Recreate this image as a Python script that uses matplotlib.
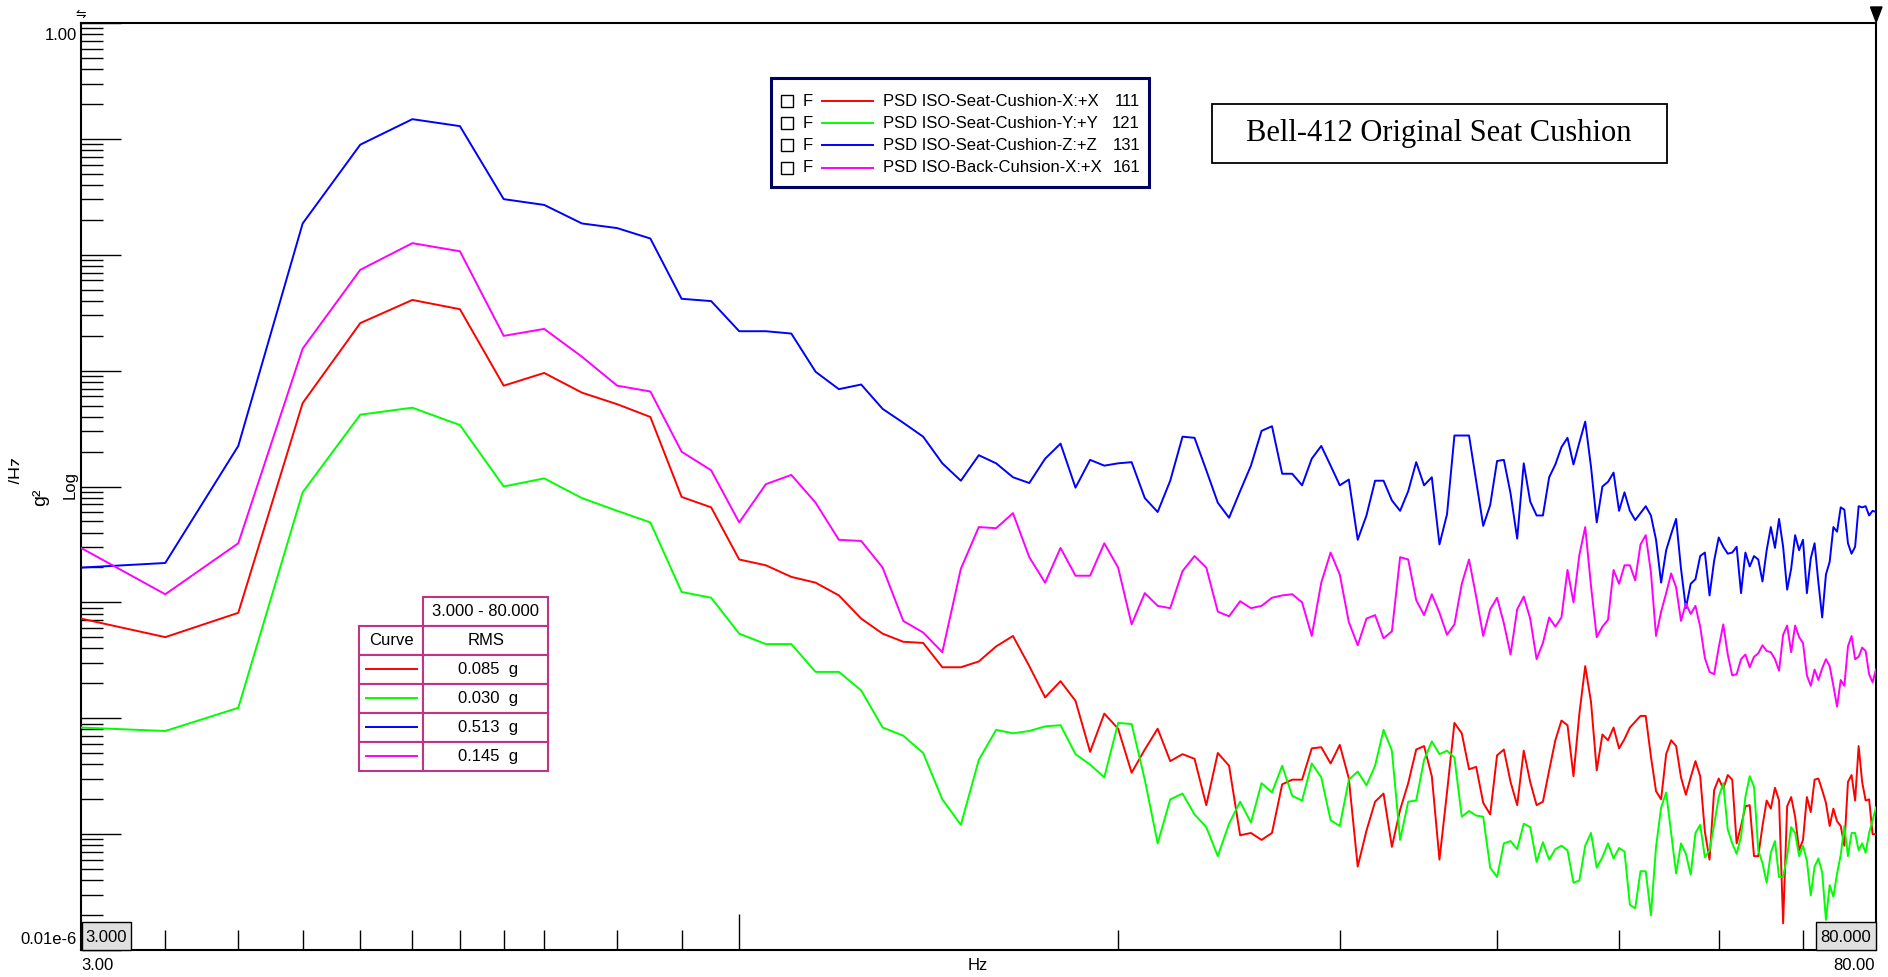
import numpy as np
import matplotlib
matplotlib.use('Agg')
import matplotlib.pyplot as plt
from matplotlib.patches import Rectangle, Polygon
from matplotlib.ticker import FixedLocator, LogLocator, NullFormatter

plt.rcParams['font.family'] = ['Liberation Sans', 'DejaVu Sans']

# 0.5 Hz spectral lines, 3 .. 80 Hz
freq = np.arange(3.0, 80.01, 0.5)

# log10 of PSD in g^2/Hz, one value per spectral line
psd_x_111 = [
    -5.14, -5.30, -5.09, -3.28, -2.59, -2.39, -2.47, -3.13, -3.02, -3.19, -3.29, -3.40,
    -4.09, -4.18, -4.63, -4.68, -4.78, -4.83, -4.94, -5.14, -5.27, -5.34, -5.35, -5.56,
    -5.56, -5.51, -5.38, -5.29, -5.55, -5.82, -5.68, -5.85, -6.29,
    -5.96, -6.09, -6.47, -6.27, -6.09, -6.37, -6.31, -6.35, -6.75, -6.30, -6.41, -7.01,
    -6.99, -7.05, -6.99, -6.57, -6.53, -6.53, -6.26, -6.25, -6.39, -6.23, -6.52, -7.28,
    -6.97, -6.72, -6.65, -7.11, -6.79, -6.56, -6.27, -6.24, -6.50, -7.22, -6.64, -6.04,
    -6.13, -6.44, -6.42,
    -6.73, -6.83, -6.32, -6.27, -6.55, -6.75, -6.28, -6.55, -6.75, -6.72, -6.45, -6.19,
    -6.02, -6.06, -6.50, -5.96, -5.55, -5.86, -6.45, -6.14, -6.19, -6.08, -6.26, -6.18,
    -6.08, -6.03, -5.98, -5.98, -6.33, -6.63, -6.70, -6.31, -6.19, -6.24, -6.51, -6.66,
    -6.51, -6.37, -6.50, -6.98, -7.22, -6.62, -6.52, -6.61, -6.49, -6.53, -7.08, -6.93,
    -6.76, -6.75, -7.19, -7.19, -6.93, -6.71, -6.78, -6.60, -6.71, -7.77, -6.76, -6.68,
    -6.85, -7.14, -7.05, -6.68, -6.81, -6.53, -6.52, -6.62, -6.73, -6.93, -6.78, -6.89,
    -6.93, -7.10, -6.55, -6.49, -6.71, -6.24, -6.55, -6.71, -6.70, -7.00, -7.00,
]
psd_y_121 = [
    -6.08, -6.11, -5.91, -4.05, -3.38, -3.32, -3.47, -4.00, -3.93, -4.10, -4.21, -4.31,
    -4.91, -4.96, -5.27, -5.36, -5.36, -5.60, -5.60, -5.76, -6.08, -6.15, -6.30, -6.70,
    -6.92, -6.36, -6.10, -6.13, -6.11, -6.07, -6.06, -6.31, -6.40,
    -6.51, -6.04, -6.05, -6.53, -7.08, -6.70, -6.65, -6.83, -6.94, -7.19, -6.91, -6.72,
    -6.90, -6.56, -6.64, -6.41, -6.67, -6.71, -6.39, -6.51, -6.88, -6.93, -6.53, -6.46,
    -6.58, -6.41, -6.10, -6.28, -7.05, -6.72, -6.71, -6.36, -6.20, -6.31, -6.28, -6.34,
    -6.85, -6.80, -6.84,
    -6.85, -7.29, -7.37, -7.08, -7.06, -7.13, -6.91, -6.94, -7.24, -7.07, -7.22, -7.13,
    -7.10, -7.14, -7.42, -7.40, -7.10, -6.99, -7.29, -7.20, -7.08, -7.21, -7.12, -7.15,
    -7.61, -7.64, -7.32, -7.32, -7.70, -7.11, -6.77, -6.64, -6.99, -7.34, -7.08, -7.17,
    -7.35, -6.99, -6.92, -7.20, -7.14, -6.92, -6.68, -6.56, -6.96, -7.08, -7.17, -7.02,
    -6.68, -6.50, -6.59, -7.14, -7.25, -7.42, -7.16, -7.06, -7.37, -7.37, -7.19, -6.94,
    -6.99, -7.19, -7.10, -7.23, -7.53, -7.28, -7.21, -7.33, -7.74, -7.44, -7.54, -7.34,
    -7.18, -6.93, -7.19, -6.99, -6.99, -7.14, -7.08, -7.16, -6.99, -6.88, -6.77,
]
psd_z_131 = [
    -4.70, -4.66, -3.65, -1.73, -1.05, -0.83, -0.89, -1.52, -1.57, -1.73, -1.77, -1.86,
    -2.38, -2.40, -2.66, -2.66, -2.68, -3.01, -3.16, -3.12, -3.33, -3.45, -3.57, -3.80,
    -3.95, -3.73, -3.80, -3.92, -3.97, -3.76, -3.63, -4.01, -3.77,
    -3.82, -3.80, -3.79, -4.10, -4.22, -3.95, -3.57, -3.58, -3.86, -4.14, -4.27, -4.04,
    -3.82, -3.52, -3.48, -3.89, -3.89, -3.99, -3.76, -3.65, -3.82, -3.99, -3.94, -4.46,
    -4.25, -3.95, -3.95, -4.12, -4.21, -4.04, -3.79, -3.99, -3.92, -4.50, -4.24, -3.56,
    -3.56, -3.56, -3.95,
    -4.34, -4.16, -3.78, -3.77, -4.06, -4.45, -3.80, -4.13, -4.25, -4.25, -3.92, -3.81,
    -3.66, -3.58, -3.81, -3.62, -3.44, -3.83, -4.31, -4.00, -3.96, -3.88, -4.21, -4.05,
    -4.21, -4.29, -4.23, -4.17, -4.25, -4.46, -4.83, -4.55, -4.41, -4.28, -4.71, -5.05,
    -4.84, -4.80, -4.60, -4.57, -4.94, -4.64, -4.44, -4.52, -4.58, -4.57, -4.52, -4.92,
    -4.57, -4.69, -4.60, -4.63, -4.82, -4.55, -4.35, -4.53, -4.28, -4.52, -4.89, -4.71,
    -4.42, -4.55, -4.46, -4.92, -4.62, -4.49, -4.83, -5.13, -4.76, -4.65, -4.35, -4.39,
    -4.18, -4.20, -4.49, -4.58, -4.52, -4.17, -4.18, -4.17, -4.25, -4.21, -4.22,
]
psd_back_161 = [
    -4.53, -4.93, -4.49, -2.81, -2.13, -1.90, -1.97, -2.70, -2.64, -2.88, -3.13, -3.18,
    -3.70, -3.86, -4.31, -3.98, -3.90, -4.14, -4.46, -4.47, -4.70, -5.16, -5.26, -5.43,
    -4.71, -4.35, -4.36, -4.23, -4.61, -4.83, -4.53, -4.77, -4.77,
    -4.49, -4.70, -5.19, -4.92, -5.03, -5.05, -4.73, -4.60, -4.70, -5.08, -5.12, -4.99,
    -5.05, -5.03, -4.96, -4.94, -4.93, -5.00, -5.29, -4.83, -4.57, -4.76, -5.17, -5.37,
    -5.14, -5.11, -5.31, -5.25, -4.61, -4.63, -4.98, -5.11, -4.93, -5.09, -5.28, -5.19,
    -4.84, -4.63, -4.95,
    -5.29, -5.06, -4.96, -5.18, -5.45, -5.06, -4.95, -5.14, -5.49, -5.35, -5.13, -5.21,
    -5.13, -4.72, -5.00, -4.59, -4.35, -4.86, -5.30, -5.21, -5.15, -4.72, -4.84, -4.68,
    -4.68, -4.81, -4.50, -4.42, -4.74, -5.29, -5.08, -4.92, -4.75, -4.87, -5.16, -5.01,
    -5.10, -5.03, -5.21, -5.48, -5.60, -5.62, -5.39, -5.19, -5.45, -5.63, -5.62, -5.49,
    -5.45, -5.56, -5.47, -5.44, -5.37, -5.42, -5.43, -5.49, -5.59, -5.28, -5.20, -5.43,
    -5.20, -5.30, -5.35, -5.63, -5.72, -5.58, -5.67, -5.57, -5.49, -5.55, -5.72, -5.90,
    -5.67, -5.72, -5.38, -5.29, -5.49, -5.47, -5.39, -5.42, -5.62, -5.69, -5.58,
]

curve_names = ['PSD ISO-Seat-Cushion-X:+X', 'PSD ISO-Seat-Cushion-Y:+Y',
               'PSD ISO-Seat-Cushion-Z:+Z', 'PSD ISO-Back-Cuhsion-X:+X']
curve_ids = ['111', '121', '131', '161']
curve_colors = ['#FF0000', '#00FF00', '#0000FF', '#FF00FF']
rms_g = [0.085, 0.030, 0.513, 0.145]
series = [psd_x_111, psd_y_121, psd_z_131, psd_back_161]

W, H = 1888, 977
fig = plt.figure(figsize=(W / 100, H / 100), dpi=100)
fig.patch.set_facecolor('white')

# plot area in pixels: x 81..1876, y 23..950
ax = fig.add_axes([81 / W, 1 - 950 / H, 1795 / W, 927 / H])
for vals, col in zip(series, curve_colors):
    ax.plot(freq, 10 ** np.array(vals), color=col, lw=1.4, zorder=3)

ax.set_xscale('log')
ax.set_yscale('log')
ax.set_xlim(3, 80)
ax.set_ylim(1e-8, 1)

ax.yaxis.set_major_locator(LogLocator(base=10, numticks=20))
ax.yaxis.set_minor_locator(LogLocator(base=10, subs=np.arange(2, 10), numticks=100))
ax.xaxis.set_major_locator(FixedLocator([10]))
ax.xaxis.set_minor_locator(FixedLocator([3.5, 4, 4.5, 5, 5.5, 6, 6.5, 7, 8, 9,
                                         20, 30, 40, 50, 60, 70]))
for axis in (ax.xaxis, ax.yaxis):
    axis.set_major_formatter(NullFormatter())
    axis.set_minor_formatter(NullFormatter())

ax.tick_params(axis='y', which='major', direction='in', length=28.8, width=1, color='black')
ax.tick_params(axis='y', which='minor', direction='in', length=15.8, width=1, color='black')
ax.tick_params(axis='x', which='major', direction='in', length=26, width=1, color='black')
ax.tick_params(axis='x', which='minor', direction='in', length=14.4, width=1, color='black')
for sp in ax.spines.values():
    sp.set_linewidth(1.5)
    sp.set_color('black')

# annotation layer in pixel coordinates
ov = fig.add_axes([0, 0, 1, 1], zorder=5)
ov.set_xlim(0, W)
ov.set_ylim(H, 0)
ov.axis('off')
ov.patch.set_visible(False)

fs = 12
ov.text(77, 35, '1.00', ha='right', va='center', fontsize=fs)
ov.text(77, 940, '0.01e-6', ha='right', va='center', fontsize=fs)
ov.text(81, 966, '3.00', ha='left', va='center', fontsize=fs)
ov.text(1875, 966, '80.00', ha='right', va='center', fontsize=fs)
ov.text(978, 966, 'Hz', ha='center', va='center', fontsize=fs)

# y axis caption; the unit part is cut off at the left edge
ov.text(41, 497, 'g²', rotation=90, ha='center', va='center', fontsize=14)
hz = ov.text(9, 470, '/Hz', rotation=90, ha='left', va='center', fontsize=13)
hz.set_clip_path(Rectangle((0, 440), 19, 60, transform=ov.transData))
hz.set_clip_on(True)
ov.text(70, 485, 'Log', rotation=90, ha='center', va='center', fontsize=fs)

# cursor markers at the plot corners
ov.text(81, 14, '⇋', ha='center', va='center', fontsize=9, family='DejaVu Sans')
ov.add_patch(Polygon([(1870.5, 7), (1882, 7), (1876.2, 22)], closed=True,
                     facecolor='black', edgecolor='black'))
for x0, w, label in [(82, 49, '3.000'), (1816, 60, '80.000')]:
    ov.add_patch(Rectangle((x0, 922), w, 28, facecolor='#E0E0E0',
                           edgecolor='black', lw=1))
    ov.text(x0 + w / 2, 937, label, ha='center', va='center', fontsize=fs)

# legend
ov.add_patch(Rectangle((771, 78), 378, 109, facecolor='white',
                       edgecolor='#000060', lw=2.2))
for i, (name, cid, col) in enumerate(zip(curve_names, curve_ids, curve_colors)):
    yc = 101 + i * 22.2
    ov.add_patch(Rectangle((781, yc - 6), 12, 12, facecolor='white',
                           edgecolor='black', lw=1))
    ov.text(803, yc, 'F', ha='left', va='center', fontsize=fs)
    ov.plot([822, 873], [yc, yc], color=col, lw=1.4)
    ov.text(883, yc, name, ha='left', va='center', fontsize=fs)
    ov.text(1140, yc, cid, ha='right', va='center', fontsize=fs)

# title box
ov.add_patch(Rectangle((1212, 104), 455, 59, facecolor='white',
                       edgecolor='black', lw=1.3))
ov.text(1439, 134, 'Bell-412 Original Seat Cushion', ha='center', va='center',
        fontsize=22, family='Liberation Serif')

# RMS table
tc = '#C03485'
ov.add_patch(Rectangle((423.3, 596.7), 125, 29, facecolor='white', edgecolor=tc, lw=1.5))
ov.text(485.8, 611.5, '3.000 - 80.000', ha='center', va='center', fontsize=fs)
row_y = 625.7
ov.add_patch(Rectangle((359.3, row_y), 64, 29, facecolor='white', edgecolor=tc, lw=1.5))
ov.add_patch(Rectangle((423.3, row_y), 125, 29, facecolor='white', edgecolor=tc, lw=1.5))
ov.text(391.3, row_y + 14.5, 'Curve', ha='center', va='center', fontsize=fs)
ov.text(485.8, row_y + 14.5, 'RMS', ha='center', va='center', fontsize=fs)
for i, (v, col) in enumerate(zip(rms_g, curve_colors)):
    y0 = row_y + 29 * (i + 1)
    ov.add_patch(Rectangle((359.3, y0), 64, 29, facecolor='white', edgecolor=tc, lw=1.5))
    ov.add_patch(Rectangle((423.3, y0), 125, 29, facecolor='white', edgecolor=tc, lw=1.5))
    ov.plot([366, 417], [y0 + 14.5, y0 + 14.5], color=col, lw=1.4)
    ov.text(488, y0 + 14.5, f'{v:.3f}  g', ha='center', va='center', fontsize=fs)

fig.savefig('out.png', dpi=100)
